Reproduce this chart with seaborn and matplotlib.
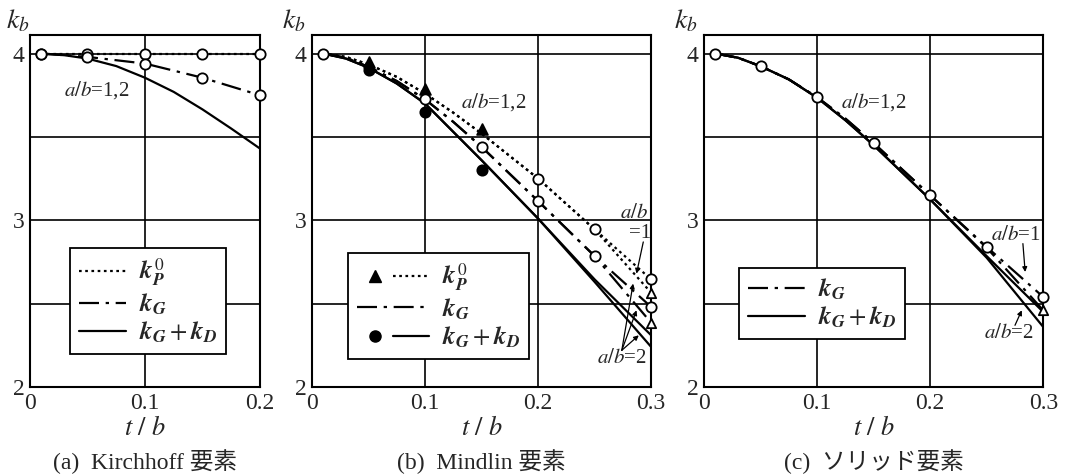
import matplotlib
matplotlib.use("Agg")
import matplotlib.pyplot as plt
import seaborn as sns
from matplotlib.lines import Line2D
from matplotlib.legend_handler import HandlerTuple

# ---- (a) Kirchhoff ----
a_x = [0.01, 0.05, 0.1, 0.15, 0.2]
a_kp0 = [4.0, 4.0, 4.0, 4.0, 4.0]
a_kg = [4.0, 3.98, 3.94, 3.855, 3.75]
a_kgd_x = [0.01, 0.03, 0.05, 0.075, 0.1, 0.125, 0.15, 0.175, 0.2]
a_kgd = [4.0, 3.99, 3.97, 3.925, 3.855, 3.77, 3.665, 3.55, 3.43]

# ---- (b) Mindlin ----
b_x = [0.01, 0.03, 0.05, 0.075, 0.1, 0.125, 0.15, 0.2, 0.25, 0.3]
b_kp0_1 = [4.0, 3.98, 3.935, 3.86, 3.76, 3.645, 3.52, 3.25, 2.945, 2.645]
b_kp0_2 = [4.0, 3.98, 3.935, 3.86, 3.76, 3.645, 3.52, 3.25, 2.945, 2.565]
b_kg_1 = [4.0, 3.975, 3.92, 3.835, 3.725, 3.59, 3.44, 3.115, 2.785, 2.48]
b_kg_2 = [4.0, 3.975, 3.92, 3.835, 3.725, 3.59, 3.44, 3.115, 2.785, 2.385]
b_kgd_1 = [4.0, 3.97, 3.915, 3.82, 3.70, 3.53, 3.36, 3.01, 2.645, 2.31]
b_kgd_2 = [4.0, 3.97, 3.915, 3.82, 3.70, 3.53, 3.36, 3.01, 2.63, 2.24]
b_tri_x = [0.05, 0.1, 0.15]
b_tri = [3.948, 3.79, 3.545]
b_dot_x = [0.05, 0.1, 0.15]
b_dot = [3.90, 3.65, 3.30]
b_circ_x = [0.01, 0.1, 0.15, 0.2, 0.2, 0.25, 0.25, 0.3, 0.3]
b_circ = [4.0, 3.725, 3.44, 3.25, 3.115, 2.945, 2.785, 2.645, 2.48]
b_otri_x = [0.3, 0.3]
b_otri = [2.565, 2.385]

# ---- (c) solid element ----
c_x = [0.01, 0.03, 0.05, 0.075, 0.1, 0.125, 0.15, 0.2, 0.25, 0.3]
c_kg_1 = [4.0, 3.975, 3.924, 3.845, 3.738, 3.61, 3.463, 3.15, 2.84, 2.54]
c_kg_2 = [4.0, 3.975, 3.924, 3.845, 3.738, 3.61, 3.463, 3.15, 2.835, 2.46]
c_kgd_1 = [4.0, 3.975, 3.924, 3.845, 3.735, 3.60, 3.45, 3.125, 2.785, 2.45]
c_kgd_2 = [4.0, 3.975, 3.924, 3.845, 3.735, 3.60, 3.45, 3.125, 2.775, 2.36]
c_circ_x = [0.01, 0.05, 0.1, 0.15, 0.2, 0.25, 0.3]
c_circ = [4.0, 3.924, 3.738, 3.463, 3.15, 2.84, 2.54]
c_otri_x = [0.3]
c_otri = [2.46]

captions = ["(a)  Kirchhoff 要素", "(b)  Mindlin 要素", "(c)  ソリッド要素"]

sns.set_style("white")
plt.rcParams["font.family"] = ["Liberation Serif", "Noto Sans CJK JP"]
plt.rcParams["mathtext.fontset"] = "stix"

DOT = (0, (1.2, 1.6))
DASHDOT = (0, (9, 3, 1.5, 3))
LW = 1.6

fig = plt.figure(figsize=(10.7, 4.76), dpi=100)
ax_a = fig.add_axes([0.028, 0.187, 0.215, 0.739])
ax_b = fig.add_axes([0.2916, 0.187, 0.317, 0.739])
ax_c = fig.add_axes([0.658, 0.187, 0.317, 0.739])


def line(ax, x, y, ls):
    sns.lineplot(x=x, y=y, ax=ax, color="k", lw=LW, linestyle=ls,
                 sort=False, estimator=None, zorder=3)


def pts(ax, x, y, marker, fill, s=55):
    sns.scatterplot(x=x, y=y, ax=ax, marker=marker, s=s, facecolor=fill,
                    edgecolor="k", linewidth=1.3, zorder=5, clip_on=False)


def frame(ax, xmax):
    ax.set_xlim(0, xmax)
    ax.set_ylim(2, 4.11)
    xt = [0, 0.1, 0.2] if xmax < 0.25 else [0, 0.1, 0.2, 0.3]
    ax.set_xticks(xt)
    ax.set_xticklabels(["0" if v == 0 else f"{v:.1f}" for v in xt])
    ax.set_yticks([2, 2.5, 3, 3.5, 4])
    ax.set_yticklabels(["2", "", "3", "", "4"])
    ax.grid(True, color="k", lw=1.2)
    ax.tick_params(length=0, labelsize=17, pad=4)
    for sp in ax.spines.values():
        sp.set_color("k")
        sp.set_linewidth(1.5)
    ax.set_xlabel(r"$t\ /\ b$", fontsize=19, labelpad=2)
    ax.set_ylabel("")
    ax.text(-0.055, 1.04, r"$k_b$", transform=ax.transAxes, fontsize=20,
            ha="center", va="center")


def arrow(ax, xy, xytext):
    ax.annotate("", xy=xy, xytext=xytext,
                arrowprops=dict(arrowstyle="-|>", lw=0.9, color="k",
                                mutation_scale=7, shrinkA=0, shrinkB=0))


lab_p = r"$\mathbfit{k}_{\mathbfit{P}}^{\,0}$"
lab_g = r"$\mathbfit{k}_{\mathbfit{G}}$"
lab_gd = r"$\mathbfit{k}_{\mathbfit{G}}+\mathbfit{k}_{\mathbfit{D}}$"
leg_kw = dict(frameon=True, fancybox=False, framealpha=1, edgecolor="k",
              fontsize=18, borderpad=0.35, labelspacing=0.12, handletextpad=0.5,
              borderaxespad=0)
ANN = 15

# (a)
line(ax_a, a_x, a_kp0, DOT)
line(ax_a, a_x, a_kg, DASHDOT)
line(ax_a, a_kgd_x, a_kgd, "-")
pts(ax_a, a_x, a_kp0, "o", "white")
pts(ax_a, a_x, a_kg, "o", "white")
frame(ax_a, 0.2)
ax_a.text(0.058, 3.78, r"$a/b$=1,2", fontsize=ANN, ha="center", va="center")
h = [Line2D([], [], color="k", lw=LW, ls=DOT),
     Line2D([], [], color="k", lw=LW, ls=DASHDOT),
     Line2D([], [], color="k", lw=LW, ls="-")]
leg = ax_a.legend(h, [lab_p, lab_g, lab_gd], loc="upper left",
                  bbox_to_anchor=(0.174, 0.395), handlelength=1.9, **leg_kw)
leg.get_frame().set_linewidth(1.3)

# (b)
for y, ls in [(b_kp0_1, DOT), (b_kp0_2, DOT), (b_kg_1, DASHDOT),
              (b_kg_2, DASHDOT), (b_kgd_1, "-"), (b_kgd_2, "-")]:
    line(ax_b, b_x, y, ls)
pts(ax_b, b_tri_x, b_tri, "^", "k", s=60)
pts(ax_b, b_dot_x, b_dot, "o", "k")
pts(ax_b, b_circ_x, b_circ, "o", "white")
pts(ax_b, b_otri_x, b_otri, "^", "white", s=45)
frame(ax_b, 0.3)
ax_b.text(0.161, 3.71, r"$a/b$=1,2", fontsize=ANN, ha="center", va="center")
ax_b.text(0.285, 3.04, r"$a/b$", fontsize=ANN, ha="center", va="center")
ax_b.text(0.29, 2.92, "=1", fontsize=ANN, ha="center", va="center")
arrow(ax_b, (0.287, 2.68), (0.293, 2.87))
ax_b.text(0.274, 2.17, r"$a/b$=2", fontsize=ANN, ha="center", va="center")
for tgt in [(0.284, 2.62), (0.287, 2.46), (0.289, 2.31)]:
    arrow(ax_b, tgt, (0.274, 2.22))
mk_t = Line2D([], [], color="k", marker="^", ls="none", ms=8)
mk_c = Line2D([], [], color="k", marker="o", ls="none", ms=8)
h = [(mk_t, Line2D([], [], color="k", lw=LW, ls=DOT)),
     Line2D([], [], color="k", lw=LW, ls=DASHDOT),
     (mk_c, Line2D([], [], color="k", lw=LW, ls="-"))]
leg = ax_b.legend(h, [lab_p, lab_g, lab_gd], loc="upper left",
                  bbox_to_anchor=(0.106, 0.381), handlelength=2.9,
                  handler_map={tuple: HandlerTuple(ndivide=None, pad=0.0)},
                  **leg_kw)
leg.get_frame().set_linewidth(1.3)

# (c)
for y, ls in [(c_kg_1, DASHDOT), (c_kg_2, DASHDOT), (c_kgd_1, "-"), (c_kgd_2, "-")]:
    line(ax_c, c_x, y, ls)
pts(ax_c, c_circ_x, c_circ, "o", "white")
pts(ax_c, c_otri_x, c_otri, "^", "white", s=45)
frame(ax_c, 0.3)
ax_c.text(0.15, 3.71, r"$a/b$=1,2", fontsize=ANN, ha="center", va="center")
ax_c.text(0.276, 2.91, r"$a/b$=1", fontsize=ANN, ha="center", va="center")
arrow(ax_c, (0.284, 2.69), (0.282, 2.86))
ax_c.text(0.27, 2.32, r"$a/b$=2", fontsize=ANN, ha="center", va="center")
arrow(ax_c, (0.281, 2.46), (0.275, 2.37))
h = [Line2D([], [], color="k", lw=LW, ls=DASHDOT),
     Line2D([], [], color="k", lw=LW, ls="-")]
leg = ax_c.legend(h, [lab_g, lab_gd], loc="upper left",
                  bbox_to_anchor=(0.103, 0.338), handlelength=2.3, **leg_kw)
leg.get_frame().set_linewidth(1.3)

for ax, cap in zip([ax_a, ax_b, ax_c], captions):
    bb = ax.get_position()
    fig.text((bb.x0 + bb.x1) / 2, 0.03, cap, ha="center", va="center",
             fontsize=17)

fig.savefig("out.png", dpi=100)
